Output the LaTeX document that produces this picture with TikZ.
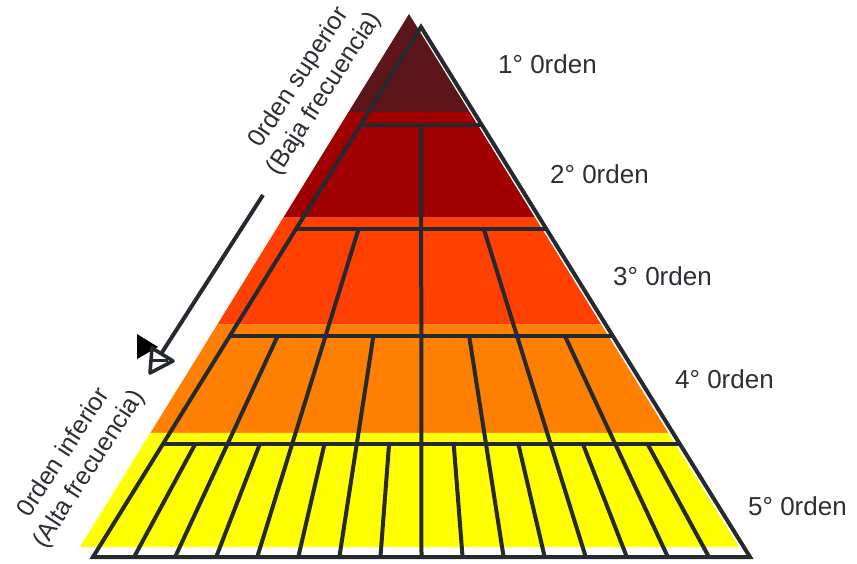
\documentclass[tikz,border=0pt]{standalone}
\usepackage{fontspec}
\setmainfont{Liberation Sans}
\usetikzlibrary{calc}
\definecolor{bandA}{HTML}{5C1519}
\definecolor{bandB}{HTML}{A00000}
\definecolor{bandC}{HTML}{FF4000}
\definecolor{bandD}{HTML}{FF8000}
\definecolor{bandE}{HTML}{FFFF00}
\definecolor{ink}{HTML}{262A30}
\definecolor{txt}{HTML}{2B2E33}
\tikzset{
  grid line/.style={draw=ink, line width=4pt},
  order label/.style={anchor=base west, inner sep=0pt, text=txt, font=\fontsize{26}{30}\selectfont},
  side label/.style={rotate=57, align=center, inner sep=0pt, text=txt, font=\fontsize{25}{30}\selectfont},
}
\begin{document}
\begin{tikzpicture}[x=1pt, y=-1pt]
\useasboundingbox (0,0) rectangle (857,563);
% filled shadow pyramid
\coordinate (fA) at (409,14);
\coordinate (fL) at (80,547);
\coordinate (fR) at (739,547);
\foreach \t [count=\i] in {0,0.184,0.382,0.583,0.786,1} {
  \coordinate (fL\i) at ($(fA)!\t!(fL)$);
  \coordinate (fR\i) at ($(fA)!\t!(fR)$);
}
\foreach \a/\b/\c in {1/2/bandA,2/3/bandB,3/4/bandC,4/5/bandD,5/6/bandE} {
  \fill[\c] (fL\a) -- (fL\b) -- (fR\b) -- (fR\a) -- cycle;
}
% outline pyramid
\coordinate (A) at (421,27);
\coordinate (L) at (93,557);
\coordinate (R) at (750,557);
\foreach \t [count=\i] in {0,0.184,0.382,0.583,0.786,1} {
  \coordinate (L\i) at ($(A)!\t!(L)$);
  \coordinate (R\i) at ($(A)!\t!(R)$);
}
\foreach \i in {2,3,4,5} {
  \draw[grid line] (L\i) -- (R\i);
}
\foreach \k/\n in {3/2,4/4,5/8,6/16} {
  \pgfmathtruncatemacro\p{\k-1}
  \pgfmathtruncatemacro\m{\n-1}
  \foreach \j in {1,...,\m} {
    \pgfmathsetmacro\f{\j/\n}
    \draw[grid line] ($(L\p)!\f!(R\p)$) -- ($(L\k)!\f!(R\k)$);
  }
}
\draw[grid line] (A) -- (L) -- (R) -- cycle;
% labels
\node[order label] (o1) at (498,73) {1° 0rden};
\node[order label] (o2) at (550,183) {2° 0rden};
\node[order label] (o3) at (613,285) {3° 0rden};
\node[order label] (o4) at (675,388) {4° 0rden};
\node[order label] (o5) at (748,515) {5° 0rden};
\node[side label] (sup) at (312,86) {0rden superior\\(Baja frecuencia)};
\node[side label] (inf) at (77,461) {0rden inferior\\(Alta frecuencia)};
% arrow
\coordinate (as) at (263,195);
\coordinate (ae) at (161,354);
\draw[grid line] (as) -- (ae);
\fill[black] (137,334) -- (158,347) -- (137,359) -- cycle;
\draw[ink, line width=3.6pt, fill=white, line join=round] (152,348) -- (173,361) -- (150,373) -- cycle;
\draw[ink, line width=3pt] (151,360) -- (168,360);
\end{tikzpicture}
\end{document}
